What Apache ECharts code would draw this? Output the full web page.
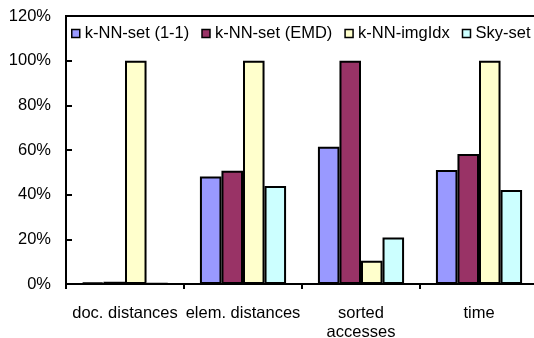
<!DOCTYPE html>
<html>
<head>
<meta charset="utf-8">
<script src="https://cdn.jsdelivr.net/npm/echarts@6/dist/echarts.min.js"></script>
<style>html,body{margin:0;padding:0;background:#fff}#c{width:534px;height:338px}</style>
</head>
<body>
<div id="c"></div>
<script>
const categories = ['doc. distances', 'elem. distances', 'sorted\naccesses', 'time'];
const seriesNames = ['k-NN-set (1-1)', 'k-NN-set (EMD)', 'k-NN-imgIdx', 'Sky-set'];
const knnSet11 = [0.6, 48.1, 61.5, 51.1];
const knnSetEMD = [1.0, 50.7, 100, 58.2];
const knnImgIdx = [100, 100, 10.4, 100];
const skySet = [0.3, 43.9, 20.8, 42.1];
const yTicks = [0, 20, 40, 60, 80, 100, 120];

const colors = ['#9999FF', '#993366', '#FFFFCC', '#CCFFFF'];
const values = [knnSet11, knnSetEMD, knnImgIdx, skySet];
const font = 'Arial, "Liberation Sans", sans-serif';
const fs = 16.5;

const chart = echarts.init(document.getElementById('c'), null, {renderer: 'canvas'});
chart.setOption({
  animation: false,
  backgroundColor: '#fff',
  grid: {left: 66, top: 16, right: -4, bottom: 54, containLabel: false, outerBoundsMode: 'none',
    show: true, borderColor: '#000', borderWidth: 2, backgroundColor: 'transparent'},
  legend: {
    left: 71, top: 25, width: 520, itemWidth: 8, itemHeight: 8, itemGap: 12, icon: 'rect',
    padding: 0,
    textStyle: {fontFamily: font, fontSize: fs, color: '#000'},
    itemStyle: {borderColor: '#000', borderWidth: 1.5},
    data: seriesNames
  },
  xAxis: {
    type: 'category', data: categories,
    axisLine: {lineStyle: {color: '#000', width: 2}},
    axisTick: {show: true, length: 5, lineStyle: {color: '#000', width: 2}},
    axisLabel: {fontFamily: font, fontSize: fs, color: '#000', margin: 20, lineHeight: 19, interval: 0}
  },
  yAxis: {
    type: 'value', min: yTicks[0], max: yTicks[yTicks.length - 1], interval: 20,
    axisLine: {show: true, lineStyle: {color: '#000', width: 2}},
    axisTick: {show: true, inside: true, length: 6, lineStyle: {color: '#000', width: 2}},
    splitLine: {show: false},
    axisLabel: {fontFamily: font, fontSize: fs, color: '#000', margin: 15, formatter: '{value}%'}
  },
  series: seriesNames.map((n, i) => ({
    name: n, type: 'bar', data: values[i],
    barGap: '0%', barCategoryGap: '27%',
    itemStyle: {color: colors[i], borderColor: '#000', borderWidth: 2}
  }))
});
</script>
</body>
</html>
